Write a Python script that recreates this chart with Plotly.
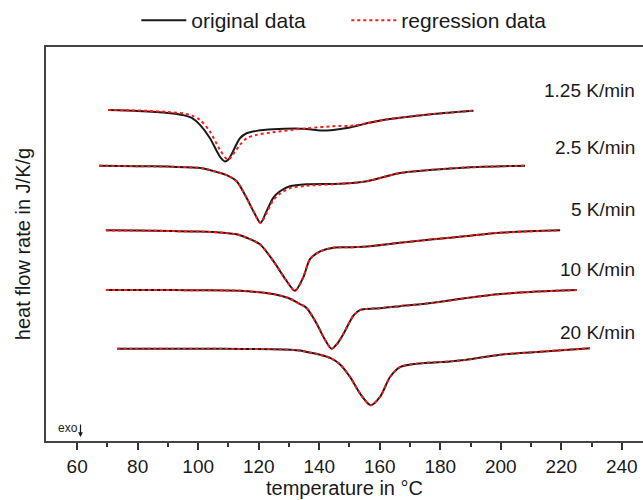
import plotly.graph_objects as go

# 1.25 K/min
t1 = [70.2, 80, 90, 95, 98, 100.6, 103.9, 106.2, 107.6, 108.8, 110, 111, 113.8, 116, 119.3, 124.7, 135.8, 140.3, 144.6, 150.2, 155.7, 161.2, 166.7, 177.7, 191]
q1 = [3.327, 3.317, 3.297, 3.275, 3.245, 3.177, 3.043, 2.91, 2.84, 2.81, 2.83, 2.88, 3.043, 3.093, 3.117, 3.133, 3.137, 3.122, 3.127, 3.15, 3.193, 3.227, 3.25, 3.287, 3.32]
t1r = [70.2, 80, 90, 95, 98, 100.6, 103.9, 107.2, 109.9, 112.2, 113.8, 116, 119.3, 124.7, 135.8, 146.8, 150.2, 155.7, 161.2, 166.7, 177.7, 191]
q1r = [3.327, 3.322, 3.307, 3.293, 3.27, 3.227, 3.11, 2.927, 2.827, 2.91, 2.977, 3.043, 3.077, 3.103, 3.143, 3.167, 3.167, 3.193, 3.227, 3.25, 3.287, 3.32]

# 2.5 K/min
t2 = [67.3, 80, 90, 100, 102.8, 106, 109.4, 112.7, 116, 118.8, 120.6, 122.6, 124.8, 127, 130.3, 135.9, 146.9, 155.7, 161, 166.7, 177.7, 188.8, 208]
q2 = [2.767, 2.762, 2.758, 2.747, 2.732, 2.705, 2.672, 2.61, 2.443, 2.277, 2.193, 2.31, 2.443, 2.51, 2.56, 2.58, 2.585, 2.61, 2.65, 2.693, 2.727, 2.75, 2.767]
q2r = [2.767, 2.762, 2.758, 2.747, 2.732, 2.705, 2.672, 2.61, 2.443, 2.277, 2.193, 2.29, 2.42, 2.485, 2.54, 2.565, 2.585, 2.61, 2.65, 2.693, 2.727, 2.75, 2.767]

# 5 K/min
t3 = [69.5, 80, 91.7, 100, 108.3, 113, 116, 120.4, 124.8, 129.2, 132, 134.7, 137, 140.3, 144.7, 150, 155.7, 166.7, 177.7, 188.8, 199.8, 219.6]
q3 = [2.117, 2.115, 2.11, 2.105, 2.093, 2.075, 2.043, 1.977, 1.81, 1.61, 1.51, 1.643, 1.83, 1.905, 1.943, 1.947, 1.955, 1.993, 2.027, 2.06, 2.093, 2.117]

# 10 K/min
t4 = [69.5, 80, 91.7, 100, 113.8, 124.8, 130, 133.6, 135.9, 139.2, 141.5, 144.1, 146, 148, 151.3, 153.4, 155.7, 160, 166.7, 177.7, 188.8, 199.8, 210.8, 225.1]
q4 = [1.517, 1.517, 1.517, 1.515, 1.51, 1.477, 1.435, 1.377, 1.335, 1.177, 1.04, 0.927, 0.98, 1.077, 1.26, 1.315, 1.327, 1.335, 1.355, 1.39, 1.437, 1.477, 1.5, 1.517]

# 20 K/min
t5 = [73.2, 90, 102.8, 115, 124.8, 133.6, 135.9, 140, 143.6, 146.9, 150.2, 153.5, 157, 160.1, 163.4, 166.7, 172.2, 183.2, 188.8, 199.8, 210.8, 229.5]
q5 = [0.927, 0.928, 0.927, 0.925, 0.923, 0.91, 0.895, 0.87, 0.835, 0.77, 0.643, 0.477, 0.36, 0.443, 0.643, 0.743, 0.777, 0.8, 0.817, 0.867, 0.893, 0.933]

rate_labels = ["1.25 K/min", "2.5 K/min", "5 K/min", "10 K/min", "20 K/min"]
label_y = [3.527, 2.95, 2.327, 1.727, 1.087]

orig = [(t1, q1), (t2, q2), (t3, q3), (t4, q4), (t5, q5)]
regr = [(t1r, q1r), (t2, q2r), (t3, q3), (t4, q4), (t5, q5)]

fig = go.Figure()
for i, (t, q) in enumerate(orig):
    fig.add_trace(go.Scatter(x=t, y=q, mode="lines", name="original data",
                             line=dict(color="#1a1a1a", width=2, shape="spline", smoothing=0.8),
                             showlegend=(i == 0), legendgroup="o"))
for i, (t, q) in enumerate(regr):
    fig.add_trace(go.Scatter(x=t, y=q, mode="lines", name="regression data",
                             line=dict(color="#ff1a1a", width=2, dash="dot", shape="spline", smoothing=0.8),
                             showlegend=(i == 0), legendgroup="r"))

for lab, yy in zip(rate_labels, label_y):
    fig.add_annotation(x=245.0, y=yy, xref="x", yref="y", text=lab, showarrow=False,
                       xanchor="right", yanchor="middle",
                       font=dict(size=19, color="#1a1a1a"))

fig.add_annotation(xref="paper", yref="paper", x=(55.5 - 46) / 597, y=(441 - 428) / 396,
                   text="exo", showarrow=False, xanchor="left", yanchor="middle",
                   font=dict(size=12, color="#1a1a1a"))
fig.add_annotation(xref="paper", yref="paper", x=(80.5 - 46) / 597, y=(441 - 437) / 396,
                   ax=0, ay=-14, showarrow=True, arrowhead=2, arrowsize=0.8,
                   arrowwidth=1.2, arrowcolor="#1a1a1a", text="")

fig.update_layout(
    width=643, height=500,
    margin=dict(l=46, r=0, t=45, b=59),
    paper_bgcolor="white", plot_bgcolor="white",
    font=dict(family="Liberation Sans, Arial, sans-serif", color="#1a1a1a"),
    showlegend=True,
    legend=dict(orientation="h", x=0.503, xanchor="center", y=1.015, yanchor="bottom",
                font=dict(size=21), entrywidth=150, entrywidthmode="pixels",
                bgcolor="rgba(0,0,0,0)", itemwidth=45),
    xaxis=dict(range=[49.7, 247.0], tickvals=list(range(60, 241, 20)),
               ticks="outside", ticklen=7, tickwidth=1.5, tickcolor="#333",
               minor=dict(tickvals=list(range(70, 241, 20)), ticks="outside", ticklen=4, tickwidth=1.5, tickcolor="#333"),
               showline=True, linecolor="#444", linewidth=2, mirror=True,
               showgrid=False, zeroline=False, tickfont=dict(size=19),
               title=dict(text="temperature in °C", font=dict(size=20), standoff=4)),
    yaxis=dict(range=[0, 3.96], showticklabels=False, ticks="",
               showline=True, linecolor="#444", linewidth=2,
               showgrid=False, zeroline=False,
               title=dict(text="heat flow rate in J/K/g", font=dict(size=20), standoff=8)),
)

fig.write_html("out.html")
